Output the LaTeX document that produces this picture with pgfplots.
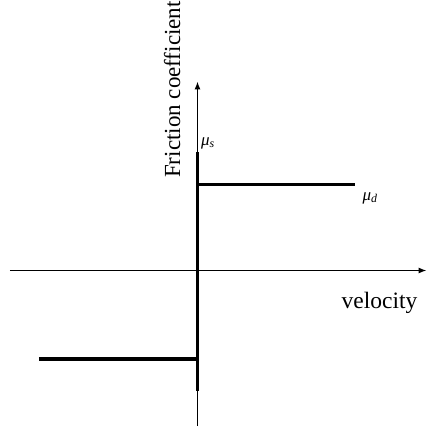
\documentclass[border=0pt]{standalone}
\usepackage{fontspec}
\setmainfont{Liberation Serif}
\usepackage{pgfplots}
\pgfplotsset{compat=1.18}
\usetikzlibrary{arrows.meta}
\begin{document}
\begin{tikzpicture}
\begin{axis}[
  x=1pt, y=1pt, scale only axis,
  xmin=-187.5, xmax=229, ymin=-155.5, ymax=189,
  axis lines=middle, clip=false,
  axis line style={line width=1.1pt},
  every inner x axis line/.append style={-{Latex[length=8pt,width=6pt]}},
  every inner y axis line/.append style={-{Latex[length=8pt,width=6pt]}},
  xtick=\empty, ytick=\empty,
]
\path (axis cs:-197.5,-155.5) rectangle (axis cs:236.5,270.5);
% friction law
\addplot[line width=3.6pt] coordinates {(0,118.5) (0,-120.5)};
\addplot[line width=3.4pt] coordinates {(-1,86) (157.5,86)};
\addplot[line width=3.4pt] coordinates {(-158.5,-88.5) (1,-88.5)};
% labels
\node[anchor=base west, inner sep=0pt, font=\fontsize{23.5}{28}\selectfont] at (axis cs:144,-37.5) {velocity};
\node[anchor=base west, inner sep=0pt, font=\fontsize{17}{20}\selectfont] at (axis cs:3.5,125.5) {\textit{μ}\textsubscript{\textit{s}}};
\node[anchor=base west, inner sep=0pt, font=\fontsize{17}{20}\selectfont] at (axis cs:165,70.5) {\textit{μ}\textsubscript{\textit{d}}};
\node[anchor=base west, inner sep=0pt, rotate=90, font=\fontsize{23}{28}\selectfont] at (axis cs:-17.5,92.5) {Friction coefficient};
\end{axis}
\end{tikzpicture}
\end{document}
